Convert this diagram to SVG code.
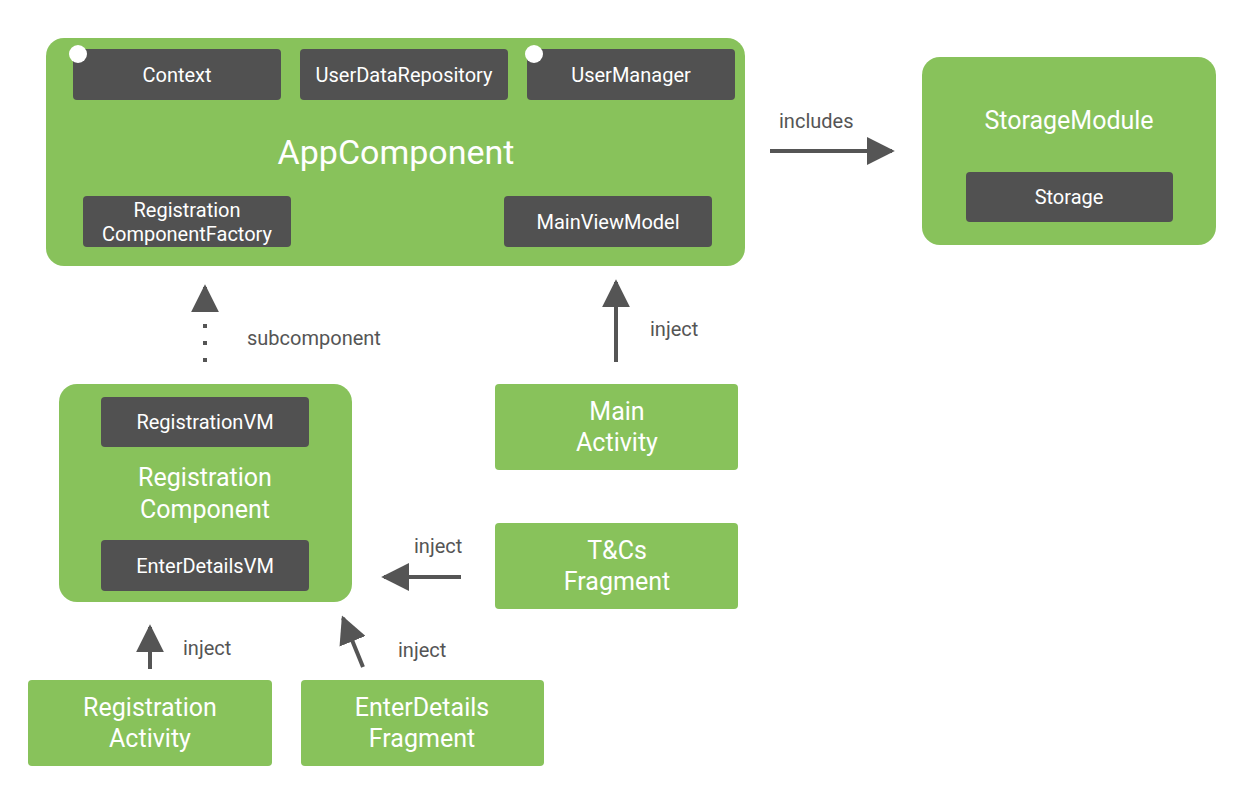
<svg xmlns="http://www.w3.org/2000/svg" width="1252" height="796" viewBox="0 0 1252 796">
<defs>
<style>
.g{fill:#88c25b}
.d{fill:#515151}
.t{font-family:Roboto,"Liberation Sans",sans-serif;fill:#fff;text-anchor:middle}
.s{font-size:20px}
.m{font-size:25px}
.l{font-family:Roboto,"Liberation Sans",sans-serif;fill:#555;font-size:20px}
.c{stroke:#555;stroke-width:4;fill:none}
</style>
<marker id="ah" viewBox="0 0 10 10" refX="9" refY="5" markerWidth="7" markerHeight="7" markerUnits="strokeWidth" orient="auto">
<path d="M0,0 L10,5 L0,10 z" fill="#555"/>
</marker>
</defs>
<rect width="1252" height="796" fill="#fff"/>
<g id="appComponent">
<rect class="g" x="46" y="38" width="699" height="228" rx="18"/>
<text class="t" x="396" y="164" font-size="34">AppComponent</text>
</g>
<g id="context">
<rect class="d" x="73" y="49" width="208" height="51" rx="4"/>
<text class="t s" x="177" y="82">Context</text>
<circle cx="78" cy="54" r="9" fill="#fff"/>
</g>
<g id="userDataRepository">
<rect class="d" x="300" y="49" width="208" height="51" rx="4"/>
<text class="t s" x="404" y="82">UserDataRepository</text>
</g>
<g id="userManager">
<rect class="d" x="527" y="49" width="208" height="51" rx="4"/>
<text class="t s" x="631" y="82">UserManager</text>
<circle cx="534" cy="54" r="9" fill="#fff"/>
</g>
<g id="registrationComponentFactory">
<rect class="d" x="83" y="196" width="208" height="51" rx="4"/>
<text class="t s" x="187" y="217">Registration</text>
<text class="t s" x="187" y="241">ComponentFactory</text>
</g>
<g id="mainViewModel">
<rect class="d" x="504" y="196" width="208" height="51" rx="4"/>
<text class="t s" x="608" y="229">MainViewModel</text>
</g>
<g id="storageModule">
<rect class="g" x="922" y="57" width="294" height="188" rx="18"/>
<text class="t m" x="1069" y="129">StorageModule</text>
</g>
<g id="storage">
<rect class="d" x="966" y="172" width="207" height="50" rx="4"/>
<text class="t s" x="1069" y="204">Storage</text>
</g>
<g id="registrationComponent">
<rect class="g" x="59" y="384" width="293" height="218" rx="18"/>
<text class="t m" x="205" y="486">Registration</text>
<text class="t m" x="205" y="518">Component</text>
</g>
<g id="registrationVM">
<rect class="d" x="101" y="397" width="208" height="50" rx="4"/>
<text class="t s" x="205" y="429">RegistrationVM</text>
</g>
<g id="enterDetailsVM">
<rect class="d" x="101" y="540" width="208" height="51" rx="4"/>
<text class="t s" x="205" y="573">EnterDetailsVM</text>
</g>
<g id="mainActivity">
<rect class="g" x="495" y="384" width="243" height="86" rx="4"/>
<text class="t m" x="617" y="420">Main</text>
<text class="t m" x="617" y="451">Activity</text>
</g>
<g id="tcsFragment">
<rect class="g" x="495" y="523" width="243" height="86" rx="4"/>
<text class="t m" x="617" y="559">T&amp;Cs</text>
<text class="t m" x="617" y="590">Fragment</text>
</g>
<g id="registrationActivity">
<rect class="g" x="28" y="680" width="244" height="86" rx="4"/>
<text class="t m" x="150" y="716">Registration</text>
<text class="t m" x="150" y="747">Activity</text>
</g>
<g id="enterDetailsFragment">
<rect class="g" x="301" y="680" width="243" height="86" rx="4"/>
<text class="t m" x="422" y="716">EnterDetails</text>
<text class="t m" x="422" y="747">Fragment</text>
</g>
<g id="connectors">
<line class="c" x1="770" y1="151" x2="892" y2="151" marker-end="url(#ah)"/>
<text class="l" x="779" y="128">includes</text>
<line class="c" x1="205" y1="312" x2="205" y2="287" marker-end="url(#ah)"/>
<line x1="205" y1="324" x2="205" y2="366" stroke="#555" stroke-width="4" stroke-dasharray="4 13"/>
<text class="l" x="247" y="345">subcomponent</text>
<line class="c" x1="616" y1="362" x2="616" y2="282" marker-end="url(#ah)"/>
<text class="l" x="650" y="336">inject</text>
<line class="c" x1="461" y1="577" x2="384" y2="577" marker-end="url(#ah)"/>
<text class="l" x="414" y="553">inject</text>
<line class="c" x1="150" y1="669" x2="150" y2="627" marker-end="url(#ah)"/>
<text class="l" x="183" y="655">inject</text>
<line class="c" x1="363" y1="667" x2="343" y2="618" marker-end="url(#ah)"/>
<text class="l" x="398" y="657">inject</text>
</g>
</svg>
